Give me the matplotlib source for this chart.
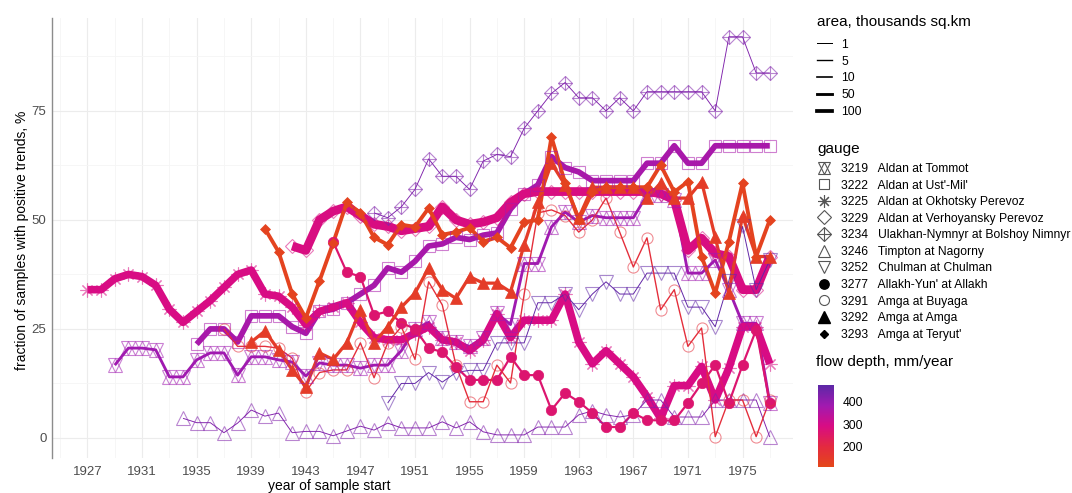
import numpy as np
import matplotlib.pyplot as plt
from matplotlib.colors import LinearSegmentedColormap, Normalize
from matplotlib.cm import ScalarMappable
from matplotlib.lines import Line2D
from matplotlib.legend_handler import HandlerTuple

plt.rcParams['font.family'] = ['Liberation Sans', 'DejaVu Sans']

# -----------------------------
# Gauge metadata
# -----------------------------
codes = [3219, 3222, 3225, 3229, 3234, 3246, 3252, 3277, 3291, 3292, 3293]
names = ["Aldan at Tommot", "Aldan at Ust'-Mil'", "Aldan at Okhotsky Perevoz",
         "Aldan at Verhoyansky Perevoz", "Ulakhan-Nymnyr at Bolshoy Nimnyr",
         "Timpton at Nagorny", "Chulman at Chulman", "Allakh-Yun' at Allakh",
         "Amga at Buyaga", "Amga at Amga", "Amga at Teryut'"]
area_k = [49.5, 269, 514, 696, 0.5, 0.6, 0.8, 24, 5, 69, 108]      # thousands sq.km
flow_mm = [385, 372, 292, 288, 430, 428, 468, 262, 185, 140, 118]  # mm/year

# -----------------------------
# fraction of samples with positive trends, % (one value per start year)
# -----------------------------
years_3219 = np.arange(1929, 1978)
frac_3219 = [16.7, 20.6, 20.6, 20.2, 14, 14, 17.9, 19.5, 19.5, 14.4,
             18.6, 18.6, 17.9, 17.4, 14.2, 17.2, 16.7, 16.7, 16, 16.7,
             16.7, 20, 25, 26.5, 23, 22, 21, 23, 28.6, 26,
             40, 40, 48.4, 51.8, 49.5, 51, 50.5, 50.5, 50.5, 55.7,
             55.7, 54.6, 37.8, 37.8, 40.8, 34, 26.3, 26.3, 8]

years_3222 = np.arange(1935, 1978)
frac_3222 = [21.5, 25, 25, 22, 28, 28, 28, 25.5, 24, 29,
             29.5, 31, 33, 35, 39, 38, 40.5, 44, 44.5, 46,
             45.5, 46.5, 47, 52.5, 56, 58, 64.5, 62, 61, 59,
             59, 59, 59, 63, 63, 67, 63, 63, 67, 67,
             67, 67, 67]

years_3225 = np.arange(1927, 1978)
frac_3225 = [34, 34, 36.5, 37.5, 37, 35, 29.5, 26.5, 29, 31.5,
             34.5, 37.5, 38.5, 33, 32.5, 30, 26, 29, 30, 31,
             26.5, 23, 22.5, 22.5, 24, 25.5, 22.5, 22, 20, 22.5,
             28.5, 23, 27, 27, 27, 33, 22, 17, 20, 17,
             14, 9.5, 4.5, 12, 12, 16.4, 8.7, 16, 25.5, 25.5,
             17]

years_3229 = np.arange(1942, 1978)
frac_3229 = [44, 43, 50, 52, 53, 51, 49, 48.5, 47.5, 48,
             48.5, 53, 50, 49, 49.5, 50.5, 54, 56, 56.5, 56.5,
             56.5, 56.5, 56.5, 56.5, 56.5, 56.5, 56.5, 56, 54.6, 43,
             45.8, 42.3, 41.6, 34, 34, 41.6]

years_3234 = np.arange(1948, 1978)
frac_3234 = [51.6, 50.5, 53, 57, 64, 60, 60, 57, 63.5, 65,
             64.5, 71, 75, 79, 81.5, 78, 78, 75, 78, 75,
             79.4, 79.4, 79.4, 79.4, 79.4, 75, 92, 92, 83.7, 83.7]

years_3246 = np.arange(1934, 1978)
frac_3246 = [4.5, 3.5, 3.5, 1.2, 3.4, 6.4, 5, 5.7, 1.2, 1.5,
             1.5, 0.5, 1.6, 2.7, 1.8, 3.4, 2.3, 2.3, 2.3, 3.7,
             2.3, 3.7, 1.4, 0.7, 0.7, 0.7, 2.5, 2.5, 2.5, 5.3,
             6.2, 5.3, 4.8, 5.3, 8.7, 8.7, 4.8, 4.8, 4.8, 8.7,
             8.7, 8.7, 8.7, 0.2]

years_3252 = np.arange(1949, 1978)
frac_3252 = [8, 12.5, 12.5, 15, 12.8, 15, 15.5, 15.5, 21.8, 21.8,
             21.8, 31, 31, 33, 29.4, 33, 35.8, 33, 33, 37.8,
             37.8, 37.8, 30, 30, 25.5, 36, 48.5, 34, 40.8]

years_3277 = np.arange(1945, 1978)
frac_3277 = [45, 38, 37, 28.2, 29, 26.4, 25, 20.6, 19.7, 16.3,
             13.3, 13.3, 13.3, 18.6, 14.4, 14.4, 6.4, 10.3, 8.3, 5.7,
             2.5, 2.5, 5.7, 4.1, 4, 4, 8, 12.5, 16.7, 8,
             16.7, 24.8, 8]

years_3291 = np.arange(1937, 1978)
frac_3291 = [25, 21, 21, 21, 20.6, 18.3, 10.6, 15, 15.6, 15.6,
             21.8, 13.8, 21.8, 25.5, 18, 35.8, 30.5, 16.7, 8.3, 8.3,
             16.7, 12.6, 33, 51.6, 52.3, 51, 47.2, 50, 55, 47.2,
             39.2, 45.9, 29.4, 34, 21, 25.2, 0.3, 8.7, 8.7, 0.3,
             8.7]

years_3292 = np.arange(1939, 1978)
frac_3292 = [22, 24.5, 20.2, 15.6, 11.7, 19.5, 18, 21.8, 29.4, 21.8,
             25.5, 30, 33.2, 39, 34, 32, 37, 35.5, 35.5, 33.5,
             44.3, 54, 63, 58, 50.5, 57.5, 57.5, 57.5, 57.5, 55,
             58.5, 55, 55, 58.8, 46, 33.2, 51, 41.6, 41.6]

years_3293 = np.arange(1940, 1978)
frac_3293 = [48, 42.7, 33, 27.5, 36, 44.7, 54, 51.6, 46, 44.3,
             48.9, 48.4, 52.7, 46.6, 47.2, 48.2, 45, 46, 43.6, 49.5,
             50, 69, 58.5, 50, 56.4, 57.5, 57.5, 57.5, 57.5, 62.6,
             56.4, 58.8, 41.6, 33.2, 45, 58.4, 41.6, 50]

area_breaks = [1, 5, 10, 50, 100]
flow_ticks = [200, 300, 400]
x_ticks = np.arange(1927, 1976, 4)
y_ticks = [0, 25, 50, 75]

series = {
    3219: (years_3219, frac_3219), 3222: (years_3222, frac_3222),
    3225: (years_3225, frac_3225), 3229: (years_3229, frac_3229),
    3234: (years_3234, frac_3234), 3246: (years_3246, frac_3246),
    3252: (years_3252, frac_3252), 3277: (years_3277, frac_3277),
    3291: (years_3291, frac_3291), 3292: (years_3292, frac_3292),
    3293: (years_3293, frac_3293),
}

# -----------------------------
# Styles
# -----------------------------
# list of (marker, size, filled) layers per gauge
MARKERS = {
    3219: [("^", 9.5, False), ("v", 9.5, False)],
    3222: [("s", 8, False)],
    3225: [((8, 2, 0), 10, False)],
    3229: [("D", 7.4, False)],
    3234: [("D", 7.4, False), ("+", 10.5, False)],
    3246: [("^", 10, False)],
    3252: [("v", 10, False)],
    3277: [("o", 7.5, True)],
    3291: [("o", 8, False)],
    3292: [("^", 9, True)],
    3293: [("D", 4.6, True)],
}

cmap = LinearSegmentedColormap.from_list(
    "flow", ["#e4471a", "#e42a40", "#d80c84", "#a11ab0", "#5c28a6"])
norm = Normalize(vmin=105, vmax=477)


def line_width(area):
    return 0.5 + 0.22 * np.sqrt(area)


fig = plt.figure(figsize=(10.72, 4.93), dpi=100)
ax = fig.add_axes([52 / 1072, 35 / 493, 741 / 1072, 440 / 493])

for code, area, flow in zip(codes, area_k, flow_mm):
    yrs, vals = series[code]
    col = cmap(norm(flow))
    ax.plot(yrs, vals, color=col, lw=line_width(area),
            solid_joinstyle="round", solid_capstyle="butt", zorder=2)

for code, area, flow in zip(codes, area_k, flow_mm):
    yrs, vals = series[code]
    col = cmap(norm(flow))
    for mk, ms, filled in MARKERS[code]:
        if filled:
            ax.plot(yrs, vals, ls="none", marker=mk, ms=ms, color=col,
                    mec=col, mew=0.5, zorder=3)
        else:
            ax.plot(yrs, vals, ls="none", marker=mk, ms=ms, mfc="none",
                    mec=col, mew=0.8, alpha=0.55, zorder=3)

ax.set_xlim(1924.4, 1978.7)
ax.set_ylim(-4.6, 96.3)
ax.set_xticks(x_ticks)
ax.set_xticks(np.arange(1925, 1979, 4), minor=True)
ax.set_yticks(y_ticks)
ax.set_yticks([12.5, 37.5, 62.5, 87.5], minor=True)
ax.grid(True, which="major", color="#ececec", lw=0.8)
ax.grid(True, which="minor", color="#f5f5f5", lw=0.6)
ax.set_axisbelow(True)
for side in ["top", "right", "bottom"]:
    ax.spines[side].set_visible(False)
ax.spines["left"].set_color("#8c8c8c")
ax.spines["left"].set_linewidth(1.0)
ax.tick_params(which="both", length=0)
ax.tick_params(axis="x", pad=6, labelsize=9.5, labelcolor="#4d4d4d")
ax.tick_params(axis="y", pad=4, labelsize=9.5, labelcolor="#4d4d4d")

fig.text(22 / 1072, 1 - 240 / 493, "fraction of samples with positive trends, %",
         rotation=90, ha="center", va="center", fontsize=10)
fig.text(329 / 1072, 1 - 486 / 493, "year of sample start",
         ha="center", va="center", fontsize=10)

# -----------------------------
# Legends
# -----------------------------
area_handles = [Line2D([], [], color="black", lw=line_width(a)) for a in area_breaks]
leg1 = fig.legend(area_handles, [str(a) for a in area_breaks],
                  title="area, thousands sq.km", loc="upper left",
                  bbox_to_anchor=(817 / 1072, 1 - 15 / 493), frameon=False,
                  fontsize=8.7, title_fontsize=11, alignment="left",
                  handlelength=1.2, handletextpad=0.8, labelspacing=0.4,
                  borderpad=0, borderaxespad=0)
leg1._legend_box.sep = 7

gauge_handles = []
for code in codes:
    parts = []
    for mk, ms, filled in MARKERS[code]:
        if filled:
            parts.append(Line2D([], [], ls="none", marker=mk, ms=ms * 0.9,
                                color="black"))
        else:
            parts.append(Line2D([], [], ls="none", marker=mk, ms=ms * 0.9,
                                mfc="none", mec="#555555", mew=0.8))
    gauge_handles.append(tuple(parts))
gauge_labels = [f"{c}   {n}" for c, n in zip(codes, names)]
leg2 = fig.legend(gauge_handles, gauge_labels, title="gauge", loc="upper left",
                  bbox_to_anchor=(817 / 1072, 1 - 142 / 493), frameon=False,
                  fontsize=8.7, title_fontsize=11, alignment="left",
                  handlelength=1.2, handletextpad=0.8, labelspacing=0.38,
                  borderpad=0, borderaxespad=0,
                  handler_map={tuple: HandlerTuple(ndivide=1)})
leg2._legend_box.sep = 5

fig.text(816 / 1072, 1 - 362 / 493, "flow depth, mm/year", fontsize=11,
         ha="left", va="center")
cax = fig.add_axes([818 / 1072, 1 - 467 / 493, 16 / 1072, 82 / 493])
cb = fig.colorbar(ScalarMappable(norm=norm, cmap=cmap), cax=cax)
cb.set_ticks(flow_ticks)
cb.outline.set_visible(False)
cax.tick_params(length=0, labelsize=8.7, pad=6)

fig.savefig("out.png", dpi=100, facecolor="white")
